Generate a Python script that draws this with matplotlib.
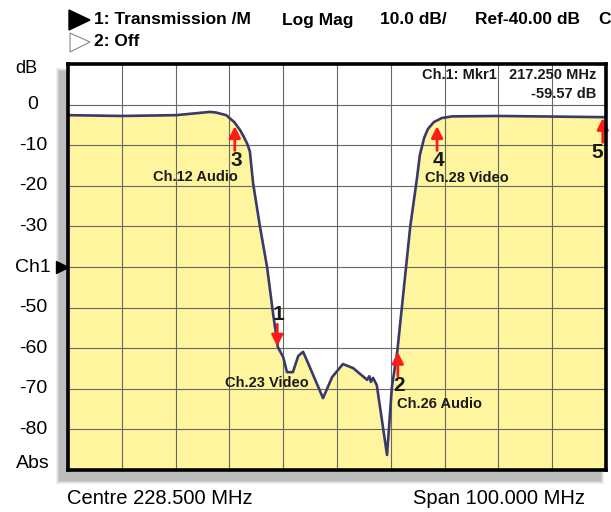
import numpy as np
import matplotlib
matplotlib.use("Agg")
import matplotlib.pyplot as plt
from matplotlib.patches import Rectangle, Polygon
from matplotlib.transforms import blended_transform_factory

plt.rcParams['font.family'] = ['Liberation Sans', 'DejaVu Sans']

# sweep settings
centre_mhz = 228.5
span_mhz = 100.0
ref_db = -40.0
db_per_div = 10.0

# traced transmission curve (MHz, dB)
freq = [178.5, 188.5, 198.6, 204.9, 206.0, 207.9, 209.4, 210.5, 211.2, 211.8,
        212.3, 212.9, 214.2, 215.5, 216.6, 217.5, 218.5, 219.2, 220.3, 221.3,
        222.2, 223.1, 225.9, 227.6, 229.6, 231.5, 234.1, 234.5, 234.8, 235.2,
        235.9, 237.8, 238.7, 239.7, 242.1, 243.4, 243.9, 244.7, 245.4, 246.5,
        248.0, 249.9, 258.8, 278.5]
mag_db = [-2.6, -2.8, -2.6, -1.8, -1.95, -2.6, -4.3, -6.3, -8.0, -9.6,
          -11.5, -19.3, -30.2, -40.0, -51.3, -59.7, -62.2, -65.9, -65.9, -61.9,
          -60.9, -63.6, -72.3, -67.1, -63.9, -64.9, -67.8, -66.9, -68.3, -67.3,
          -69.1, -86.3, -69.6, -60.9, -30.2, -17.8, -12.4, -8.2, -6.0, -4.3,
          -3.3, -2.9, -2.8, -3.1]

# markers
mkr_id = ['1', '2', '3', '4', '5']
mkr_freq = [217.4, 239.8, 209.5, 247.1, 277.9]
mkr_db = [-59.6, -60.9, -5.3, -5.3, -3.3]
mkr_down = [True, False, False, False, False]

# channel annotations
ch_names = ['Ch.12 Audio', 'Ch.28 Video', 'Ch.23 Video', 'Ch.26 Audio']
ch_freq = [202.1, 252.7, 215.5, 239.6]
ch_db = [-17.8, -18.1, -68.6, -73.7]
ch_ha = ['center', 'center', 'center', 'left']

ytick_vals = [0, -10, -20, -30, -40, -50, -60, -70, -80, -90]
ytick_text = ['0', '-10', '-20', '-30', 'Ch1', '-50', '-60', '-70', '-80', 'Abs']

W, H = 611, 512
fig = plt.figure(figsize=(W / 100, H / 100), dpi=100)

def px(x, y):
    # pixel (from top-left) -> figure fraction
    return x / W, 1 - y / H

# axes box
L, T, R, B = 68, 64, 606, 470
ax = fig.add_axes([L / W, 1 - B / H, (R - L) / W, (B - T) / H])

# drop shadow behind the frame
for k, a in enumerate([0.12, 0.15, 0.18, 0.22]):
    g = 4 - k
    x0, y0 = px(L - 8 - g, B + 10 + g)
    x1, y1 = px(R - 6 + g, T + 8 - g)
    fig.patches.append(Rectangle((x0, y0), x1 - x0, y1 - y0, transform=fig.transFigure,
                                 facecolor='#808080', edgecolor='none', alpha=a, zorder=-5))

fmin = centre_mhz - span_mhz / 2
fmax = centre_mhz + span_mhz / 2
ymax = ref_db + 5 * db_per_div
ymin = ref_db - 5 * db_per_div

ax.set_facecolor('white')
ax.fill_between(freq, mag_db, ymin, color='#FEF59E', lw=0, zorder=1)
ax.plot(freq, mag_db, color='#3A3A6A', lw=1.9, zorder=4, solid_joinstyle='round')

ax.set_xlim(fmin, fmax)
ax.set_ylim(ymin, ymax)
ax.set_xticks(np.linspace(fmin, fmax, 11))
ax.set_xticklabels([])
ax.set_yticks(np.linspace(ymin, ymax, 11))
ax.set_yticklabels([])
ax.grid(True, color='#666666', lw=0.8, zorder=2)
ax.set_axisbelow(False)
ax.tick_params(length=0)
for s in ax.spines.values():
    s.set_linewidth(2.6)
    s.set_color('black')
    s.set_zorder(10)

# y labels
trans_y = blended_transform_factory(ax.transAxes, ax.transData)
for v, t in zip(ytick_vals, ytick_text):
    dy = 1.5 if v == -90 else 0
    ax.text(-0.065, v + dy, t, transform=trans_y, ha='center', va='center',
            fontsize=14, clip_on=False)
ax.text(-0.078, 8.8, 'dB', transform=trans_y, ha='center', va='center',
        fontsize=13, clip_on=False)
ax.plot([-0.012], [ref_db], marker='>', color='black', markersize=9,
        transform=trans_y, clip_on=False)

# markers
for lab, f, d, down in zip(mkr_id, mkr_freq, mkr_db, mkr_down):
    if down:
        ax.annotate('', xy=(f, d), xytext=(f, d + 5.5),
                    arrowprops=dict(arrowstyle='-|>', color='#FF1A1A', lw=2,
                                    mutation_scale=17, shrinkA=0, shrinkB=0), zorder=6)
        ax.text(f + 0.3, d + 8.0, lab, ha='center', va='center', fontsize=15,
                fontweight='bold', color='#1a1a1a', zorder=6)
    else:
        ax.annotate('', xy=(f, d), xytext=(f, d - 6.0),
                    arrowprops=dict(arrowstyle='-|>', color='#FF1A1A', lw=2,
                                    mutation_scale=17, shrinkA=0, shrinkB=0), zorder=6)
        lx = f - 1.1 if lab == '5' else f + 0.2
        ax.text(lx, d - 8.4, lab, ha='center', va='center', fontsize=15,
                fontweight='bold', color='#1a1a1a', zorder=6)

for n, f, d, ha in zip(ch_names, ch_freq, ch_db, ch_ha):
    ax.text(f, d, n, ha=ha, va='center', fontsize=10.5, fontweight='bold',
            color='#1a1a1a', zorder=6)

# marker readout
ax.text(0.982, 0.972, 'Ch.1: Mkr1   217.250 MHz', transform=ax.transAxes,
        ha='right', va='center', fontsize=10.5, fontweight='bold', color='#1a1a1a', zorder=6)
ax.text(0.982, 0.925, '-59.57 dB', transform=ax.transAxes,
        ha='right', va='center', fontsize=10.5, fontweight='bold', color='#1a1a1a', zorder=6)

# header
fig.patches.append(Polygon([px(69, 10), px(90, 20), px(69, 30)], closed=True,
                           transform=fig.transFigure, facecolor='black', edgecolor='black'))
fig.patches.append(Polygon([px(70, 33), px(90, 42), px(70, 52)], closed=True,
                           transform=fig.transFigure, facecolor='white', edgecolor='#888888', lw=0.8))
hy = px(0, 20)[1]
for x, t in [(94, '1: Transmission /M'), (282, 'Log Mag'), (380, '10.0 dB/'),
             (475, 'Ref-40.00 dB'), (598, 'C')]:
    fig.text(x / W, hy, t, ha='left', va='center', fontsize=12.5, fontweight='bold')
fig.text(94 / W, px(0, 42)[1], '2: Off', ha='left', va='center', fontsize=12.5, fontweight='bold')

# footer
fy = px(0, 498)[1]
fig.text(67 / W, fy, f'Centre {centre_mhz:.3f} MHz', ha='left', va='center', fontsize=14.5)
fig.text(413 / W, fy, f'Span {span_mhz:.3f} MHz', ha='left', va='center', fontsize=14.5)

fig.savefig('out.png', dpi=100)
